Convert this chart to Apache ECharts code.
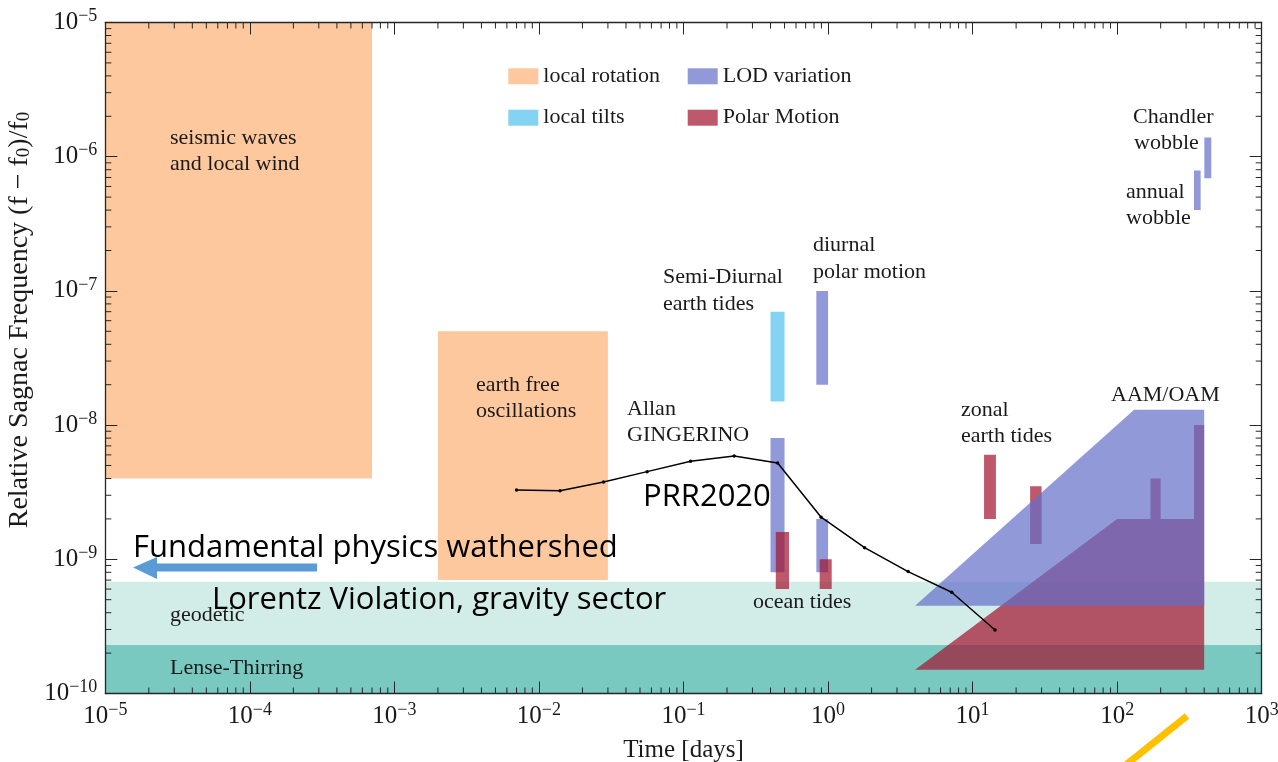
<!DOCTYPE html>
<html>
<head>
<meta charset="utf-8">
<title>Relative Sagnac frequency – geophysical and fundamental signals</title>
<script src="https://cdn.jsdelivr.net/npm/echarts@6/dist/echarts.min.js"></script>
<style>
  html, body { margin: 0; padding: 0; background: #ffffff; }
  #chart { width: 1278px; height: 762px; }
</style>
</head>
<body>
<div id="chart"></div>
<script>
// Boxes are [tMin, tMax, fMin, fMax]: time in days, relative Sagnac frequency.
const localRotationBoxes = [
  [1e-5, 7e-4, 4e-9, 1e-5],      // seismic waves and local wind
  [2e-3, 3e-2, 7e-10, 5e-8]      // earth free oscillations
];
const localTiltBoxes = [
  [0.40, 0.50, 1.5e-8, 7e-8]     // semi-diurnal earth tides
];
const lodBoxes = [
  [0.40, 0.50, 8e-10, 8e-9],
  [0.83, 1.00, 8e-10, 2e-9],
  [0.83, 1.00, 2e-8, 1e-7],      // diurnal polar motion
  [340, 378, 4e-7, 7.9e-7],      // annual wobble
  [401, 448, 6.9e-7, 1.39e-6]    // Chandler wobble
];
const polarBoxes = [
  [0.435, 0.537, 6e-10, 1.6e-9], // ocean tides
  [0.875, 1.06, 6e-10, 1e-9],
  [12, 14.5, 2e-9, 6e-9],        // zonal earth tides
  [25, 30, 1.3e-9, 3.5e-9]
];
const geodeticBand = [[1e-5, 1e3, 2.3e-10, 6.8e-10]];
const lenseThirringBand = [[1e-5, 1e3, 1e-10, 2.3e-10]];

// AAM/OAM regions, outlines as [time, level]
const aamLodOutline = [[4, 4.5e-10], [131, 1.3e-8], [400, 1.3e-8], [400, 4.5e-10]];
const aamPolarOutline = [
  [4, 1.5e-10], [100, 2e-9], [170, 2e-9], [170, 4e-9], [200, 4e-9], [200, 2e-9],
  [340, 2e-9], [340, 1e-8], [400, 1e-8], [400, 1.5e-10]
];

// Allan deviation of GINGERINO
const allanTau = [0.007, 0.014, 0.028, 0.056, 0.112, 0.224, 0.448, 0.896, 1.79, 3.58, 7.17, 14.3];
const allanDev = [3.28e-9, 3.24e-9, 3.77e-9, 4.5e-9, 5.37e-9, 5.89e-9, 5.22e-9, 2.06e-9, 1.22e-9, 8.1e-10, 5.68e-10, 2.97e-10];

// minor tick multipliers and decades covered by the axes
const minorSteps = [2, 3, 4, 5, 6, 7, 8, 9];
const timeDecades = [-5, -4, -3, -2, -1, 0, 1, 2];
const levelDecades = [-10, -9, -8, -7, -6];

const SERIF = '"Liberation Serif", "Times New Roman", serif';
const SANS = '"Open Sans", "Noto Sans", sans-serif';
const INK = '#1a1a1a';
const AXIS = '#262626';

const COLORS = {
  rotation: '#FEC89E',
  tilt: '#84D3F2',
  lod: 'rgba(98,109,199,0.7)',
  polar: 'rgba(162,19,45,0.7)',
  geodetic: '#D2ECE8',
  lense: '#79C9C1'
};

function boxSeries(name, rows, color) {
  return {
    type: 'custom',
    name: name,
    coordinateSystem: 'cartesian2d',
    xAxisIndex: 0,
    yAxisIndex: 0,
    silent: true,
    clip: true,
    itemStyle: { color: color },
    encode: { x: [0, 1], y: [2, 3] },
    data: rows,
    renderItem: function (params, api) {
      const a = api.coord([api.value(0), api.value(2)]);
      const b = api.coord([api.value(1), api.value(3)]);
      return {
        type: 'rect',
        shape: {
          x: Math.min(a[0], b[0]),
          y: Math.min(a[1], b[1]),
          width: Math.abs(b[0] - a[0]),
          height: Math.abs(b[1] - a[1])
        },
        style: { fill: color }
      };
    }
  };
}

function outlineSeries(name, outline, color) {
  return {
    type: 'custom',
    name: name,
    coordinateSystem: 'cartesian2d',
    xAxisIndex: 0,
    yAxisIndex: 0,
    silent: true,
    clip: true,
    itemStyle: { color: color },
    encode: { x: 0, y: 1 },
    data: outline,
    renderItem: function (params, api) {
      if (params.dataIndex !== 0) return null;
      const pts = outline.map(function (p) { return api.coord(p); });
      return { type: 'polygon', shape: { points: pts }, style: { fill: color } };
    }
  };
}

// log-spaced minor ticks on all four sides of the frame
const minorTickSeries = {
  type: 'custom',
  coordinateSystem: 'cartesian2d',
  xAxisIndex: 0,
  yAxisIndex: 0,
  silent: true,
  clip: false,
  z: 10,
  data: [[1e-5, 1e-10]],
  encode: { x: 0, y: 1 },
  renderItem: function (params, api) {
    const lo = api.coord([1e-5, 1e-10]);
    const hi = api.coord([1e3, 1e-5]);
    const len = 6;
    const kids = [];
    const st = { stroke: AXIS, lineWidth: 1 };
    timeDecades.forEach(function (d) {
      minorSteps.forEach(function (m) {
        const x = api.coord([m * Math.pow(10, d), 1e-10])[0];
        kids.push({ type: 'line', shape: { x1: x, y1: lo[1], x2: x, y2: lo[1] - len }, style: st });
        kids.push({ type: 'line', shape: { x1: x, y1: hi[1], x2: x, y2: hi[1] + len }, style: st });
      });
    });
    levelDecades.forEach(function (d) {
      minorSteps.forEach(function (m) {
        const y = api.coord([1e-5, m * Math.pow(10, d)])[1];
        kids.push({ type: 'line', shape: { x1: lo[0], y1: y, x2: lo[0] + len, y2: y }, style: st });
        kids.push({ type: 'line', shape: { x1: hi[0], y1: y, x2: hi[0] - len, y2: y }, style: st });
      });
    });
    return { type: 'group', children: kids };
  }
};

function powerLabel(v) {
  const e = Math.round(Math.log10(v));
  const s = e < 0 ? '\u2212' + (-e) : String(e);
  return '{b|10}{s|' + s + '}';
}
const powerRich = {
  b: { fontFamily: SERIF, fontSize: 25, lineHeight: 30, color: INK },
  s: { fontFamily: SERIF, fontSize: 18, lineHeight: 18, verticalAlign: 'top', color: INK }
};

const axisBase = {
  type: 'log',
  logBase: 10,
  z: 10,
  axisLine: { show: true, onZero: false, lineStyle: { color: AXIS, width: 1.3 } },
  axisTick: { show: true, inside: true, length: 12, lineStyle: { color: AXIS, width: 1 } },
  minorTick: { show: false },
  splitLine: { show: false },
  minorSplitLine: { show: false }
};

// free-standing annotations
const notes = [
  ['seismic waves', 170, 138], ['and local wind', 170, 164],
  ['earth free', 476, 385], ['oscillations', 476, 411],
  ['Allan', 627, 409], ['GINGERINO', 627, 435],
  ['Semi-Diurnal', 663, 277], ['earth tides', 663, 304],
  ['diurnal', 813, 245], ['polar motion', 813, 272],
  ['ocean tides', 753, 602],
  ['zonal', 961, 410], ['earth tides', 961, 436],
  ['AAM/OAM', 1111, 395],
  ['Chandler', 1133, 117], ['wobble', 1134, 143],
  ['annual', 1126, 192], ['wobble', 1126, 218],
  ['geodetic', 170, 615],
  ['Lense-Thirring', 170, 668]
];
const banners = [
  ['Fundamental physics wathershed', 133, 548],
  ['Lorentz Violation, gravity sector', 212, 600],
  ['PRR2020', 643, 497]
];

const graphics = [];
notes.forEach(function (n) {
  graphics.push({
    type: 'text', x: n[1], y: n[2], z: 50, silent: true,
    style: { text: n[0], font: '22px ' + SERIF, fill: INK, align: 'left', verticalAlign: 'middle' }
  });
});
banners.forEach(function (n) {
  graphics.push({
    type: 'text', x: n[1], y: n[2], z: 50, silent: true,
    style: { text: n[0], font: '31px ' + SANS, fill: '#000000', align: 'left', verticalAlign: 'middle' }
  });
});
// arrow pointing toward short time scales
graphics.push({
  type: 'polygon', z: 50, silent: true,
  shape: { points: [[133, 567.5], [157, 557], [157, 563.5], [317, 563.5], [317, 571.5], [157, 571.5], [157, 579]] },
  style: { fill: '#5B9BD5' }
});
graphics.push({
  type: 'line', z: 50, silent: true,
  shape: { x1: 1187, y1: 716, x2: 1112, y2: 776 },
  style: { stroke: '#FFC000', lineWidth: 7, lineCap: 'butt' }
});

const chart = echarts.init(document.getElementById('chart'), null, { renderer: 'canvas' });
chart.setOption({
  animation: false,
  backgroundColor: '#ffffff',
  grid: { left: 105.3, right: 16.3, top: 22.5, bottom: 68.5, show: false, containLabel: false, outerBoundsMode: 'none' },
  legend: [
    {
      data: ['local rotation', 'local tilts'],
      orient: 'vertical', left: 508.3, top: 65.3, padding: 0,
      itemWidth: 30, itemHeight: 16, itemGap: 19.4, icon: 'rect',
      selectedMode: false,
      textStyle: { fontFamily: SERIF, fontSize: 22, lineHeight: 22, color: INK }
    },
    {
      data: ['LOD variation', 'Polar Motion'],
      orient: 'vertical', left: 687.7, top: 65.3, padding: 0,
      itemWidth: 30, itemHeight: 16, itemGap: 19.4, icon: 'rect',
      selectedMode: false,
      textStyle: { fontFamily: SERIF, fontSize: 22, lineHeight: 22, color: INK }
    }
  ],
  xAxis: [
    Object.assign({}, axisBase, {
      position: 'bottom', min: 1e-5, max: 1e3,
      axisLabel: { show: true, margin: 8, formatter: powerLabel, rich: powerRich, showMinLabel: true, showMaxLabel: true },
      name: 'Time [days]', nameLocation: 'middle', nameGap: 44,
      nameTextStyle: { fontFamily: SERIF, fontSize: 25, color: INK }
    }),
    Object.assign({}, axisBase, {
      position: 'top', min: 1e-5, max: 1e3, axisLabel: { show: false }
    })
  ],
  yAxis: [
    Object.assign({}, axisBase, {
      position: 'left', min: 1e-10, max: 1e-5,
      axisLabel: { show: true, margin: 8, formatter: powerLabel, rich: powerRich, showMinLabel: true, showMaxLabel: true },
      name: 'Relative Sagnac Frequency (f \u2212 f{sub|0})/f{sub|0}',
      nameLocation: 'middle', nameGap: 70,
      nameTextStyle: {
        fontFamily: SERIF, fontSize: 28, color: INK, padding: [0, 0, 0, 76],
        rich: { sub: { fontFamily: SERIF, fontSize: 19, verticalAlign: 'bottom', color: INK } }
      }
    }),
    Object.assign({}, axisBase, {
      position: 'right', min: 1e-10, max: 1e-5, axisLabel: { show: false }
    })
  ],
  series: [
    boxSeries('Lense-Thirring', lenseThirringBand, COLORS.lense),
    boxSeries('geodetic', geodeticBand, COLORS.geodetic),
    boxSeries('local rotation', localRotationBoxes, COLORS.rotation),
    boxSeries('local tilts', localTiltBoxes, COLORS.tilt),
    boxSeries('LOD variation', lodBoxes, COLORS.lod),
    boxSeries('Polar Motion', polarBoxes, COLORS.polar),
    outlineSeries('Polar Motion', aamPolarOutline, COLORS.polar),
    outlineSeries('LOD variation', aamLodOutline, COLORS.lod),
    {
      type: 'line',
      name: 'Allan GINGERINO',
      xAxisIndex: 0,
      yAxisIndex: 0,
      silent: true,
      z: 5,
      data: allanTau.map(function (t, i) { return [t, allanDev[i]]; }),
      symbol: 'circle',
      symbolSize: 3.5,
      showSymbol: true,
      lineStyle: { color: '#000000', width: 1.5 },
      itemStyle: { color: '#000000' }
    },
    minorTickSeries
  ],
  graphic: graphics
});
</script>
</body>
</html>
